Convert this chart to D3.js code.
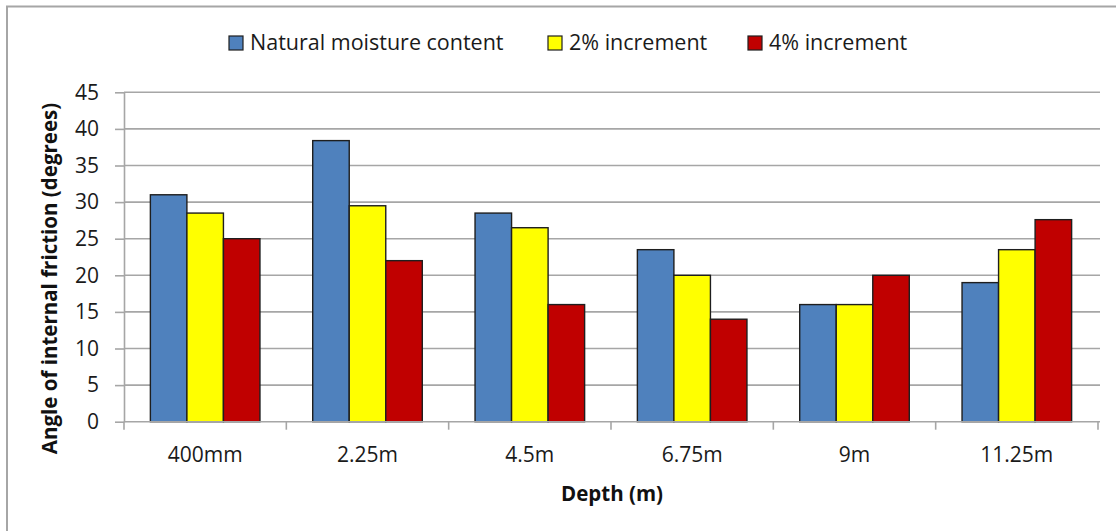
<!DOCTYPE html>
<html>
<head>
<meta charset="utf-8">
<script src="https://cdn.jsdelivr.net/npm/d3@7"></script>
<style>
  html, body { margin: 0; padding: 0; background: #fff; }
  svg { display: block; font-family: "Open Sans", "Liberation Sans", sans-serif; }
</style>
</head>
<body>
<svg id="chart" width="1116" height="531"></svg>
<script>
// Depth categories and angle of internal friction (degrees) per moisture condition
const depths = ["400mm", "2.25m", "4.5m", "6.75m", "9m", "11.25m"];
const seriesNames = ["Natural moisture content", "2% increment", "4% increment"];
const naturalMoisture = [31, 38.4, 28.5, 23.5, 16, 19];
const increment2 = [28.5, 29.5, 26.5, 20, 16, 23.5];
const increment4 = [25, 22, 16, 14, 20, 27.6];
const seriesColors = ["#4F81BD", "#FFFF00", "#C00000"];
const yTicks = [0, 5, 10, 15, 20, 25, 30, 35, 40, 45];

const seriesValues = [naturalMoisture, increment2, increment4];

const svg = d3.select("#chart");
const W = 1116, H = 531;

// Outer chart frame
svg.append("rect")
  .attr("x", 7).attr("y", 6.5)
  .attr("width", W + 10).attr("height", H + 10)
  .attr("fill", "#fff")
  .attr("stroke", "#a6a6a6")
  .attr("stroke-width", 2);

const plot = { left: 124, right: 1098, top: 92.3, bottom: 421.7 };

const x0 = d3.scaleBand()
  .domain(depths)
  .range([plot.left, plot.right])
  .paddingInner(0.325)
  .paddingOuter(0.1625);

const x1 = d3.scaleBand()
  .domain(seriesNames)
  .range([0, x0.bandwidth()]);

const y = d3.scaleLinear()
  .domain([0, 45])
  .range([plot.bottom, plot.top]);

// Horizontal gridlines
svg.append("g")
  .selectAll("line")
  .data(yTicks.filter(t => t > 0))
  .join("line")
  .attr("x1", plot.left).attr("x2", plot.right + 2)
  .attr("y1", d => y(d)).attr("y2", d => y(d))
  .attr("stroke", "#a6a6a6")
  .attr("stroke-width", 1.6);

// Y axis
const yAxis = svg.append("g")
  .attr("transform", `translate(${plot.left},0)`)
  .call(d3.axisLeft(y).tickValues(yTicks).tickSize(9).tickPadding(16).tickSizeOuter(0));
yAxis.select(".domain").attr("stroke", "#a6a6a6").attr("stroke-width", 1.6);
yAxis.selectAll(".tick line").attr("stroke", "#a6a6a6").attr("stroke-width", 1.6);
yAxis.selectAll(".tick text")
  .attr("fill", "#1a1a1a")
  .style("font-size", "21px")
  .style("font-family", "'Open Sans', sans-serif");

// Bars
const groups = svg.append("g")
  .selectAll("g")
  .data(depths)
  .join("g")
  .attr("transform", d => `translate(${x0(d)},0)`);

groups.selectAll("rect")
  .data((d, i) => seriesNames.map((s, k) => ({ series: s, k, value: seriesValues[k][i] })))
  .join("rect")
  .attr("x", d => x1(d.series))
  .attr("y", d => y(d.value))
  .attr("width", x1.bandwidth())
  .attr("height", d => y(0) - y(d.value))
  .attr("fill", d => seriesColors[d.k])
  .attr("stroke", "#1e1e1e")
  .attr("stroke-width", 1.4);

// X axis with ticks between categories
const boundaries = d3.range(depths.length + 1).map(i => plot.left + i * x0.step());
const xAxisG = svg.append("g");
xAxisG.append("line")
  .attr("x1", plot.left).attr("x2", plot.right + 2)
  .attr("y1", y(0)).attr("y2", y(0))
  .attr("stroke", "#a6a6a6").attr("stroke-width", 1.6);
xAxisG.selectAll("line.tk")
  .data(boundaries)
  .join("line")
  .attr("class", "tk")
  .attr("x1", d => d).attr("x2", d => d)
  .attr("y1", y(0)).attr("y2", y(0) + 8)
  .attr("stroke", "#a6a6a6").attr("stroke-width", 1.6);
xAxisG.selectAll("text")
  .data(depths)
  .join("text")
  .attr("x", d => x0(d) + x0.bandwidth() / 2)
  .attr("y", 462)
  .attr("text-anchor", "middle")
  .attr("fill", "#1a1a1a")
  .style("font-size", "21px")
  .text(d => d);

// Axis titles
svg.append("text")
  .attr("x", 612).attr("y", 501)
  .attr("text-anchor", "middle")
  .attr("fill", "#111")
  .style("font-size", "20.5px")
  .style("font-weight", "bold")
  .text("Depth (m)");

svg.append("text")
  .attr("transform", `translate(57,${(95 + 462) / 2}) rotate(-90)`)
  .attr("text-anchor", "middle")
  .attr("fill", "#111")
  .style("font-size", "20.5px")
  .style("font-weight", "bold")
  .text("Angle of internal friction (degrees)");

// Legend
const legendItems = [
  { name: seriesNames[0], sx: 229 },
  { name: seriesNames[1], sx: 548 },
  { name: seriesNames[2], sx: 748 }
];
const legend = svg.append("g");
legendItems.forEach((it, k) => {
  legend.append("rect")
    .attr("x", it.sx).attr("y", 36)
    .attr("width", 14).attr("height", 14)
    .attr("fill", seriesColors[k])
    .attr("stroke", "#1e1e1e").attr("stroke-width", 1.2);
  legend.append("text")
    .attr("x", it.sx + 21).attr("y", 50)
    .attr("fill", "#1a1a1a")
    .style("font-size", "21.5px")
    .text(it.name);
});
</script>
</body>
</html>
